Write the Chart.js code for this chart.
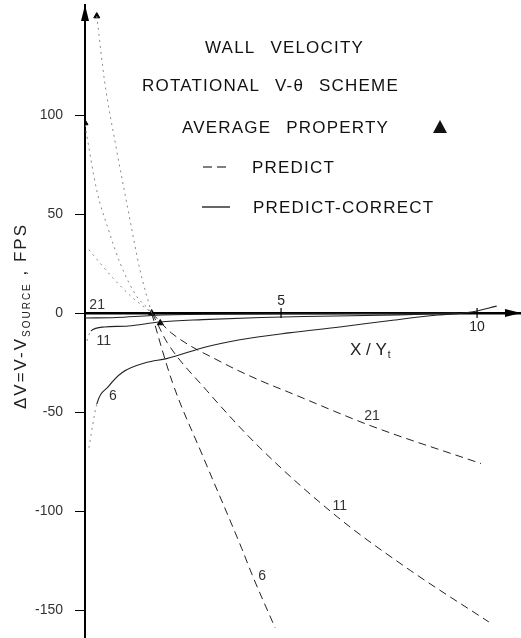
<!DOCTYPE html>
<html>
<head>
<meta charset="utf-8">
<script src="https://cdn.jsdelivr.net/npm/chart.js@4.4.1/dist/chart.umd.min.js"></script>
<style>
  html, body { margin: 0; padding: 0; background: #fff; overflow: hidden; }
  canvas { display: block; }
</style>
</head>
<body>
<canvas id="wall-velocity-chart" width="521" height="638"></canvas>
<script>
// X/Yt stations and dV (fps)
const predict6X = [0.3, 0.5, 0.8, 1.1, 1.4, 1.7, 2.23, 3.0, 4.0, 4.28, 4.85];
const predict6Y = [150, 117, 83, 52, 22, 0, -35, -72, -119, -133, -159];
const predict11X = [0, 0.3, 0.6, 0.9, 1.3, 1.7, 2.1, 3.1, 4.46, 6.44, 8.3, 10.3];
const predict11Y = [95, 62, 42, 25, 9, 0, -15, -39, -68, -103, -130, -156];
const predict21X = [0.1, 0.7, 1.2, 1.7, 2.2, 3.5, 4.46, 5.2, 7.3, 10.1];
const predict21Y = [32, 18, 8, 0, -10, -25, -34, -40, -57, -76];

const correct6X = [0.1, 0.3, 0.6, 0.95, 1.56, 2.08, 3.1, 3.95, 5.2, 6.5, 7.9, 9.0, 9.85, 10.5];
const correct6Y = [-68, -46, -37, -30, -25, -23, -17, -13.5, -10, -7, -3.5, -1, 0.5, 3.5];
const correct11X = [0.05, 0.15, 0.5, 1.1, 1.9, 3.0, 4.5, 6.0, 8.0, 9.5];
const correct11Y = [-14, -9, -7, -6.5, -4.5, -3.3, -2.2, -1.6, -0.9, 0];
const correct21X = [0, 0.8, 1.7, 3, 6, 9.5];
const correct21Y = [-2.5, -2.2, -1.2, -0.6, -0.3, 0];

// average property points
const avgX = [0.3, 0, 1.7, 1.92];
const avgY = [150, 96, 0, -5];

const xTickValues = [5, 10];
const yTickValues = [100, 50, 0, -50, -100, -150];

// curve labels
const curveLabels = ['21', '11', '6', '21', '11', '6'];
const curveLabelX = [0.31, 0.48, 0.71, 7.32, 6.5, 4.52];
const curveLabelY = [4, -14, -42, -52, -97.5, -133];

const FONT = "'Liberation Sans', Arial, sans-serif";

function pts(xs, ys) {
  return xs.map((x, i) => ({ x: x, y: ys[i] }));
}

// faint dotted before the common point, dashed after
function predictSegment(ctx) {
  return ctx.p1.parsed.x <= 1.72;
}

function predictSet(xs, ys) {
  return {
    data: pts(xs, ys),
    showLine: true,
    borderColor: '#222',
    borderWidth: 1,
    borderDash: [8, 5],
    pointRadius: 0,
    cubicInterpolationMode: 'monotone',
    segment: {
      borderColor: c => predictSegment(c) ? '#888' : undefined,
      borderDash: c => predictSegment(c) ? [2, 4] : undefined
    }
  };
}

function correctSet(xs, ys) {
  return {
    data: pts(xs, ys),
    showLine: true,
    borderColor: '#222',
    borderWidth: 1.1,
    pointRadius: 0,
    cubicInterpolationMode: 'monotone',
    segment: {
      borderColor: c => c.p1.parsed.x <= 0.35 ? '#999' : undefined,
      borderDash: c => c.p1.parsed.x <= 0.35 ? [2, 4] : undefined
    }
  };
}

const decorations = {
  id: 'decorations',
  afterDraw(chart) {
    const ctx = chart.ctx;
    const xs = chart.scales.x, ys = chart.scales.y;
    const area = chart.chartArea;
    const x0 = xs.getPixelForValue(0);
    const y0 = ys.getPixelForValue(0);
    ctx.save();
    ctx.fillStyle = '#000';
    ctx.strokeStyle = '#000';

    // axis arrows
    ctx.beginPath();
    ctx.moveTo(x0, area.top);
    ctx.lineTo(x0 - 4, area.top + 16);
    ctx.lineTo(x0 + 4, area.top + 16);
    ctx.closePath();
    ctx.fill();
    ctx.beginPath();
    ctx.moveTo(area.right, y0);
    ctx.lineTo(area.right - 16, y0 - 4);
    ctx.lineTo(area.right - 16, y0 + 4);
    ctx.closePath();
    ctx.fill();

    // x ticks
    ctx.lineWidth = 1.2;
    ctx.font = '14px ' + FONT;
    ctx.fillStyle = '#222';
    ctx.textAlign = 'center';
    xTickValues.forEach((v, i) => {
      const px = xs.getPixelForValue(v);
      ctx.beginPath();
      ctx.moveTo(px, y0 - 5);
      ctx.lineTo(px, y0 + 5);
      ctx.stroke();
      ctx.textBaseline = i === 0 ? 'bottom' : 'top';
      ctx.fillText(String(v), px, i === 0 ? y0 - 5 : y0 + 7);
    });

    // x axis title X/Yt
    ctx.font = '17px ' + FONT;
    ctx.textAlign = 'left';
    ctx.textBaseline = 'alphabetic';
    ctx.fillText('X / Y', 350, 355);
    const w = ctx.measureText('X / Y').width;
    ctx.font = '10px ' + FONT;
    ctx.fillText('t', 350 + w + 1, 358);

    // y axis title with subscript
    ctx.save();
    ctx.translate(26, 316);
    ctx.rotate(-Math.PI / 2);
    ctx.letterSpacing = '2px';
    const parts = [
      { t: '\u0394V=V-V', f: '17px ', dy: 0 },
      { t: 'SOURCE', f: '10px ', dy: 4 },
      { t: ' , FPS', f: '17px ', dy: 0 }
    ];
    let total = 0;
    parts.forEach(p => { ctx.font = p.f + FONT; p.w = ctx.measureText(p.t).width; total += p.w; });
    let cx = -total / 2;
    parts.forEach(p => { ctx.font = p.f + FONT; ctx.fillText(p.t, cx, p.dy); cx += p.w; });
    ctx.restore();

    // curve labels
    ctx.letterSpacing = '0px';
    ctx.font = '14px ' + FONT;
    ctx.fillStyle = '#333';
    ctx.textAlign = 'center';
    ctx.textBaseline = 'middle';
    curveLabels.forEach((t, i) => {
      ctx.fillText(t, xs.getPixelForValue(curveLabelX[i]), ys.getPixelForValue(curveLabelY[i]));
    });

    // title block and legend
    ctx.fillStyle = '#111';
    ctx.textAlign = 'left';
    ctx.textBaseline = 'alphabetic';
    ctx.font = '17px ' + FONT;
    ctx.letterSpacing = '1.2px';
    ctx.wordSpacing = '9px';
    ctx.fillText('WALL VELOCITY', 205, 53);
    ctx.fillText('ROTATIONAL V-\u03b8 SCHEME', 142, 91);
    ctx.fillText('AVERAGE PROPERTY', 182, 133);
    ctx.fillText('PREDICT', 252, 173);
    ctx.fillText('PREDICT-CORRECT', 253, 213);

    ctx.beginPath();
    ctx.moveTo(433, 133);
    ctx.lineTo(447, 133);
    ctx.lineTo(440, 120);
    ctx.closePath();
    ctx.fill();

    ctx.lineWidth = 1.2;
    ctx.setLineDash([9, 5]);
    ctx.beginPath();
    ctx.moveTo(203, 167);
    ctx.lineTo(229, 167);
    ctx.stroke();
    ctx.setLineDash([]);
    ctx.beginPath();
    ctx.moveTo(202, 207);
    ctx.lineTo(230, 207);
    ctx.stroke();
    ctx.restore();
  }
};

new Chart(document.getElementById('wall-velocity-chart').getContext('2d'), {
  type: 'scatter',
  data: {
    datasets: [
      predictSet(predict6X, predict6Y),
      predictSet(predict11X, predict11Y),
      predictSet(predict21X, predict21Y),
      correctSet(correct6X, correct6Y),
      correctSet(correct11X, correct11Y),
      correctSet(correct21X, correct21Y),
      {
        data: pts(avgX, avgY),
        showLine: false,
        pointStyle: 'triangle',
        pointRadius: 3.5,
        backgroundColor: '#000',
        borderColor: '#000'
      }
    ]
  },
  options: {
    responsive: false,
    animation: false,
    layout: { autoPadding: false, padding: { top: 5, right: 0, bottom: 0, left: 0 } },
    plugins: { legend: { display: false }, tooltip: { enabled: false } },
    scales: {
      x: {
        type: 'linear',
        min: 0,
        max: 11.12,
        position: { y: 0 },
        afterFit: s => { s.height = 0; s.paddingLeft = 0; s.paddingRight = 0; },
        grid: { display: false },
        ticks: { display: false },
        border: { color: '#000', width: 2.5 }
      },
      y: {
        type: 'linear',
        min: -164.1,
        max: 155.6,
        position: 'left',
        afterFit: s => { s.width = 85; s.paddingTop = 0; s.paddingBottom = 0; },
        afterBuildTicks: s => { s.ticks = yTickValues.map(v => ({ value: v })); },
        grid: { drawOnChartArea: false, drawTicks: true, tickLength: 10, color: '#000', lineWidth: 1 },
        border: { color: '#000', width: 2 },
        ticks: { padding: 12, color: '#333', font: { family: FONT, size: 14 } }
      }
    }
  },
  plugins: [decorations]
});
</script>
</body>
</html>
